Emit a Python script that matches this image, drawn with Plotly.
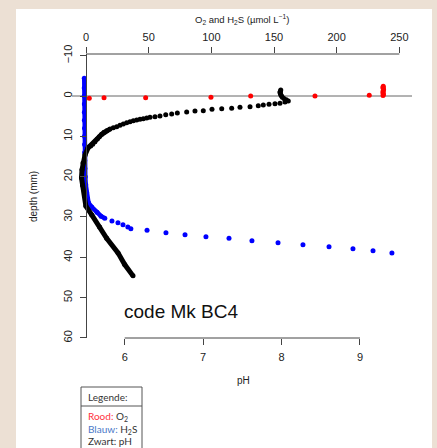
import plotly.graph_objects as go

# ---------------- data ----------------
# pH profile (depth in mm, pH)
ph_depth = [-1.5, -1.2, -0.9, -0.6, -0.3, 0.0, 0.3, 0.6, 0.9, 1.24, 1.49, 1.81, 1.91,
            2.06, 2.23, 2.41, 2.65, 2.80, 3.05, 3.15, 3.30, 3.64, 3.72, 3.97, 4.22,
            4.46, 4.64, 4.96, 5.13, 5.28, 5.46, 5.63, 5.78, 5.95, 6.12, 6.37, 6.62,
            6.94, 7.26, 7.61, 7.86, 8.18, 8.60, 9.00, 9.50, 10.09, 10.66, 11.33,
            11.98, 12.40, 12.9, 14.6, 16.6, 18.3, 20.3, 22.1, 24.5, 27.3, 29.5,
            32.5, 35.3, 38.9, 41.8, 44.6]
ph_value = [7.99, 7.985, 7.98, 7.985, 7.99, 8.00, 8.01, 8.03, 8.06, 8.086, 8.044, 7.980,
            7.916, 7.840, 7.767, 7.703, 7.598, 7.470, 7.364, 7.237, 7.113, 7.002,
            6.896, 6.790, 6.671, 6.599, 6.523, 6.450, 6.386, 6.323, 6.281, 6.237,
            6.195, 6.153, 6.110, 6.068, 6.025, 5.982, 5.940, 5.898, 5.855, 5.813,
            5.770, 5.736, 5.707, 5.676, 5.651, 5.621, 5.592, 5.566, 5.532, 5.494,
            5.468, 5.456, 5.449, 5.462, 5.487, 5.505, 5.58, 5.68, 5.77, 5.915,
            6.00, 6.106]

# H2S profile (depth in mm, umol/L)
h2s_depth = [-4.4, -2.0, 0.0, 2.0, 4.0, 6.0, 8.0, 10.0, 12.0, 14.0, 16.0, 18.0, 20.0,
             22.0, 24.0, 25.5, 26.5, 27.5, 28.8, 29.8, 30.3, 31.0, 31.4, 31.9, 32.5,
             32.9, 33.3, 33.9, 34.4, 34.9, 35.3, 35.9, 36.4, 36.9, 37.4, 37.9, 38.4,
             38.9]
h2s_value = [-1.4, -1.4, -1.4, -1.3, -1.3, -1.3, -1.2, -1.2, -1.1, -1.1, -1.0, -0.9,
             -0.6, -0.2, 0.5, 1.2, 2.0, 4.5, 8.8, 12.0, 15.0, 20.7, 25.5, 29.5, 33.4,
             35.8, 48.7, 63.8, 79.0, 95.7, 114.1, 132.4, 153.2, 173.1, 193.9, 213.0,
             229.0, 244.1]

# O2 profile (depth in mm, umol/L)
o2_depth = [0.57, 0.42, 0.42, 0.32, 0.0, 0.0, -0.17, -0.1, -0.4, -0.7, -1.0, -1.3,
            -1.6, -1.9, -2.2, -2.4]
o2_value = [2.6, 14.4, 47.6, 99.7, 131.4, 182.7, 226.0, 237.0, 237.3, 237.1, 236.9,
            237.2, 237.4, 237.1, 237.0, 237.2]

conc_ticks = [0, 50, 100, 150, 200, 250]
ph_ticks = [6, 7, 8, 9]
depth_ticks = [-10, 0, 10, 20, 30, 40, 50, 60]

# ---------------- geometry helpers ----------------
W, H = 437, 448
L, R, T, B = 72, 412, 54, 338      # plot area in pixels
PW, PH = R - L, B - T


def px(x):
    return (x - L) / PW


def py(y):
    return (B - y) / PH


fig = go.Figure()

# O2 (red)
fig.add_trace(go.Scatter(x=o2_value, y=o2_depth, mode="markers",
                         marker=dict(color="#ff0000", size=5),
                         xaxis="x", yaxis="y", showlegend=False))

# H2S (blue) - dense part drawn as thick line, all points as dots
dense_h = [i for i, d in enumerate(h2s_depth) if d <= 30.3]
fig.add_trace(go.Scatter(x=[h2s_value[i] for i in dense_h],
                         y=[h2s_depth[i] for i in dense_h], mode="lines",
                         line=dict(color="#0000ff", width=4.5),
                         xaxis="x", yaxis="y", showlegend=False))
fig.add_trace(go.Scatter(x=h2s_value, y=h2s_depth, mode="markers",
                         marker=dict(color="#0000ff", size=5),
                         xaxis="x", yaxis="y", showlegend=False))

# pH (black)
dense_p = [i for i, d in enumerate(ph_depth) if d >= 8.18]
fig.add_trace(go.Scatter(x=[ph_value[i] for i in dense_p],
                         y=[ph_depth[i] for i in dense_p], mode="lines",
                         line=dict(color="#000000", width=5),
                         xaxis="x2", yaxis="y", showlegend=False))
fig.add_trace(go.Scatter(x=ph_value, y=ph_depth, mode="markers",
                         marker=dict(color="#000000", size=5),
                         xaxis="x2", yaxis="y", showlegend=False))

tickfont = dict(family="Liberation Sans, Arial, sans-serif", size=11, color="#222222")
axcol = "#444444"

conc_lo = (L - 86) / 1.2533
conc_hi = (R - 86) / 1.2533
ph_lo = 6 + (L - 124.7) / 78.43
ph_hi = 6 + (R - 124.7) / 78.43
d_top = (T - 96) / 4.033
d_bot = (B - 96) / 4.033

fig.update_layout(
    template="none",
    width=W, height=H,
    margin=dict(l=L, r=W - R, t=T, b=H - B, pad=0),
    paper_bgcolor="#ece0d4",
    plot_bgcolor="white",
    showlegend=False,
    font=dict(family="Liberation Sans, Arial, sans-serif", color="#222222"),
    xaxis=dict(domain=[0, 1], range=[conc_lo, conc_hi], side="top", anchor="y",
               tickvals=conc_ticks, ticks="outside", ticklen=6, tickcolor=axcol,
               tickwidth=1, showline=False, showgrid=False, zeroline=False,
               tickfont=tickfont, ticklabelstandoff=2),
    xaxis2=dict(range=[ph_lo, ph_hi], overlaying="x", side="bottom", anchor="y",
                tickvals=ph_ticks, ticks="outside", ticklen=6, tickcolor=axcol,
                tickwidth=1, showline=False, showgrid=False, zeroline=False,
                tickfont=tickfont, ticklabelstandoff=3),
    yaxis=dict(domain=[0, 1], range=[d_bot, d_top], anchor="free", position=px(86),
               tickvals=depth_ticks, ticks="outside", ticklen=6, tickcolor=axcol,
               tickwidth=1, tickangle=-90, showline=True, linecolor=axcol,
               linewidth=1, showgrid=False, zeroline=False, tickfont=tickfont,
               ticklabelstandoff=4),
)

shapes = []
# white page panel
shapes.append(dict(type="rect", xref="paper", yref="paper",
                   x0=px(16), x1=px(432), y0=py(460), y1=py(9),
                   fillcolor="white", line=dict(width=0), layer="below"))
# top axis line (0..250)
shapes.append(dict(type="line", xref="x", yref="paper", x0=conc_ticks[0],
                   x1=conc_ticks[-1], y0=1, y1=1, line=dict(color=axcol, width=1)))
# bottom axis line (pH 6..9)
shapes.append(dict(type="line", xref="x2", yref="paper", x0=ph_ticks[0],
                   x1=ph_ticks[-1], y0=0, y1=0, line=dict(color=axcol, width=1)))
# horizontal line at depth 0
shapes.append(dict(type="line", xref="paper", yref="y", x0=0, x1=1, y0=0, y1=0,
                   line=dict(color="#666666", width=1), layer="below"))
# legend box
shapes.append(dict(type="rect", xref="paper", yref="paper",
                   x0=px(81), x1=px(142), y0=py(460), y1=py(387),
                   fillcolor="white", line=dict(color="#555555", width=1)))
shapes.append(dict(type="line", xref="paper", yref="paper",
                   x0=px(81), x1=px(142), y0=py(406), y1=py(406),
                   line=dict(color="#555555", width=1)))
fig.update_layout(shapes=shapes)

afont = dict(family="Liberation Sans, Arial, sans-serif", size=9.5, color="#222222")
lfont = dict(family="Lato, Noto Sans, sans-serif", size=10, color="#333333")
ann = [
    dict(text="O<sub>2</sub> and H<sub>2</sub>S (\u00b5mol L<sup>\u22121</sup>)",
         x=0.5, y=py(19), xref="paper", yref="paper", showarrow=False,
         xanchor="center", yanchor="middle", font=afont),
    dict(text="pH", x=px(243), y=py(380), xref="paper", yref="paper",
         showarrow=False, xanchor="center", yanchor="middle",
         font=dict(family="Liberation Sans, Arial, sans-serif", size=10, color="#222222")),
    dict(text="depth (mm)", x=px(33), y=py(197), xref="paper", yref="paper",
         showarrow=False, xanchor="center", yanchor="middle", textangle=-90,
         font=dict(family="Liberation Sans, Arial, sans-serif", size=10, color="#222222")),
    dict(text="code Mk BC4", x=px(122), y=py(311), xref="paper", yref="paper",
         showarrow=False, xanchor="left", yanchor="middle",
         font=dict(family="Liberation Sans, Arial, sans-serif", size=19, color="#111111")),
    dict(text="Legende:", x=px(86), y=py(397), xref="paper", yref="paper",
         showarrow=False, xanchor="left", yanchor="middle", font=lfont),
    dict(text="<span style='color:#ff3340'>Rood:</span> O<sub>2</sub>", x=px(86),
         y=py(416), xref="paper", yref="paper", showarrow=False, xanchor="left",
         yanchor="middle", font=lfont),
    dict(text="<span style='color:#4a78c8'>Blauw:</span> H<sub>2</sub>S", x=px(86),
         y=py(429), xref="paper", yref="paper", showarrow=False, xanchor="left",
         yanchor="middle", font=lfont),
    dict(text="Zwart: pH", x=px(86), y=py(441), xref="paper", yref="paper",
         showarrow=False, xanchor="left", yanchor="middle", font=lfont),
]
fig.update_layout(annotations=ann)

fig.write_html("out.html",
               config={"displayModeBar": False, "staticPlot": True},
               post_script="document.body.style.margin='0px';"
                           "document.body.style.overflow='hidden';")
